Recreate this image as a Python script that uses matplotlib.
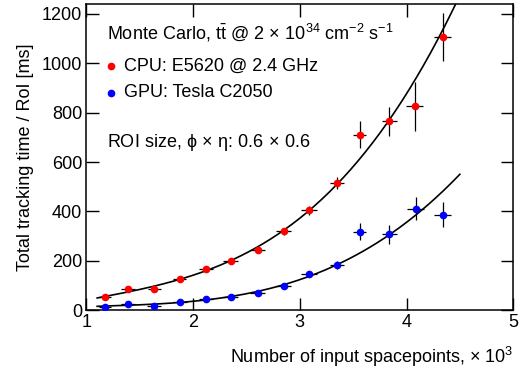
import numpy as np
import matplotlib
matplotlib.use("Agg")
import matplotlib.pyplot as plt

plt.rcParams['font.family'] = ['Liberation Sans', 'DejaVu Sans']
plt.rcParams['mathtext.fontset'] = 'custom'
plt.rcParams['mathtext.rm'] = 'Liberation Sans'
plt.rcParams['mathtext.it'] = 'Liberation Sans'
plt.rcParams['mathtext.sf'] = 'Liberation Sans'

# spacepoints (x 10^3)
cpu_x = [1.174, 1.387, 1.637, 1.872, 2.119, 2.354, 2.604, 2.848, 3.083, 3.346, 3.562, 3.837, 4.075, 4.341]
cpu_xerr = [0.06, 0.065, 0.065, 0.065, 0.065, 0.07, 0.07, 0.07, 0.075, 0.065, 0.06, 0.07, 0.08, 0.08]
cpu_y = [52, 85, 85, 127, 168, 200, 245, 320, 405, 515, 711, 765, 826, 1106]
cpu_yerr = [8, 10, 10, 10, 10, 10, 12, 14, 18, 26, 54, 58, 100, 97]

gpu_x = [1.174, 1.387, 1.631, 1.878, 2.119, 2.354, 2.607, 2.848, 3.083, 3.352, 3.562, 3.837, 4.085, 4.338]
gpu_xerr = [0.06, 0.065, 0.065, 0.065, 0.065, 0.07, 0.07, 0.07, 0.075, 0.065, 0.06, 0.07, 0.08, 0.08]
gpu_y = [14, 26, 18, 34, 46, 53, 68, 98, 148, 182, 318, 307, 411, 386]
gpu_yerr = [4, 5, 5, 5, 5, 5, 6, 8, 10, 16, 34, 39, 47, 51]

fs = 13

fig = plt.figure(figsize=(5.21, 3.70), dpi=100)
ax = fig.add_axes([0.166, 0.162, 0.819, 0.827])

xf = np.linspace(1.1, 4.5, 200)
for x, xe, y, ye, col in [(cpu_x, cpu_xerr, cpu_y, cpu_yerr, 'red'),
                           (gpu_x, gpu_xerr, gpu_y, gpu_yerr, 'blue')]:
    x = np.array(x); y = np.array(y); ye = np.array(ye)
    c = np.polyfit(x, y, 3, w=1.0 / ye)
    ax.plot(xf, np.polyval(c, xf), color='black', lw=1.2, zorder=2)
    ax.errorbar(x, y, xerr=xe, yerr=ye, fmt='none', ecolor='black', elinewidth=0.9, capsize=0, zorder=3)
    ax.plot(x, y, 'o', color=col, ms=4.5, zorder=4)

ax.set_xlim(1, 5)
ax.set_ylim(0, 1240)
ax.set_xticks([1, 2, 3, 4, 5])
ax.set_yticks([0, 200, 400, 600, 800, 1000, 1200])
ax.tick_params(direction='in', top=True, right=True, length=9, width=1, labelsize=fs, pad=3)
for s in ax.spines.values():
    s.set_linewidth(1.1)

ax.set_ylabel('Total tracking time / RoI [ms]', fontsize=fs, labelpad=6)
ax.set_xlabel(r'Number of input spacepoints, $\times$ 10$^{3}$', fontsize=fs, loc='right', labelpad=10)

ax.text(0.048, 0.905, r'Monte Carlo, $\mathrm{t\bar{t}}$ @ 2$\,\times\,$10$^{34}$ cm$^{-2}$ s$^{-1}$',
        transform=ax.transAxes, fontsize=fs, va='center')
ax.plot([0.057], [0.796], 'o', color='red', ms=4.5, transform=ax.transAxes)
ax.text(0.087, 0.796, 'CPU: E5620 @ 2.4 GHz', transform=ax.transAxes, fontsize=fs, va='center')
ax.plot([0.057], [0.71], 'o', color='blue', ms=4.5, transform=ax.transAxes)
ax.text(0.087, 0.71, 'GPU: Tesla C2050', transform=ax.transAxes, fontsize=fs, va='center')
ax.text(0.048, 0.548, r'ROI size, $\phi\,\times\,\eta$: 0.6$\,\times\,$0.6', transform=ax.transAxes,
        fontsize=fs, va='center')

fig.savefig('out.png', dpi=100)
